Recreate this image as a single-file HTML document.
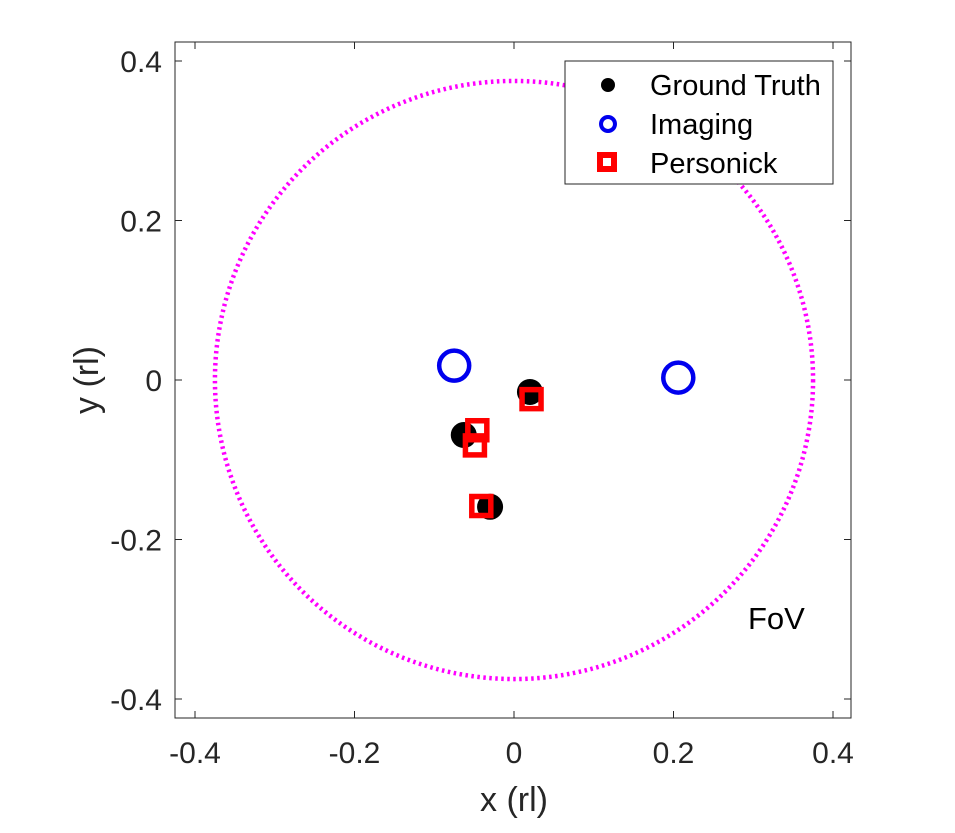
<!DOCTYPE html>
<html><head><meta charset="utf-8"><style>
body{margin:0;background:#fff;}
svg{display:block;font-family:"Liberation Sans",Arial,sans-serif;}
</style></head><body>
<svg id="chart" width="955" height="833" xmlns="http://www.w3.org/2000/svg">
<rect x="175" y="42" width="676" height="676" fill="#fff" stroke="#262626" stroke-width="1"/>
<g id="ticks"></g>
<g id="marks"></g>
<text x="514" y="811" font-size="34" text-anchor="middle" fill="#262626">x (rl)</text>
<text transform="translate(98,380) rotate(-90)" font-size="34" text-anchor="middle" fill="#262626">y (rl)</text>
<text x="748" y="629" font-size="31" fill="#000">FoV</text>
<g>
<rect x="565" y="61" width="268" height="123" fill="#fff" stroke="#262626" stroke-width="1"/>
<circle cx="608" cy="85" r="7" fill="#000"/>
<text x="650" y="95" font-size="29">Ground Truth</text>
<circle cx="608" cy="124" r="7" fill="none" stroke="#0000ee" stroke-width="4"/>
<text x="650" y="134" font-size="29">Imaging</text>
<rect x="600" y="155" width="14" height="14" fill="#fff" stroke="#f00" stroke-width="6"/>
<text x="650" y="173" font-size="29">Personick</text>
</g>
</svg>
<script>
const xTicks=[-0.4,-0.2,0,0.2,0.4];
const yTicks=[-0.4,-0.2,0,0.2,0.4];
const tickLabels=["-0.4","-0.2","0","0.2","0.4"];
const fovRadius=0.375;
const gtX=[0.020,-0.063,-0.030];
const gtY=[-0.015,-0.069,-0.159];
const imX=[-0.075,0.206];
const imY=[0.018,0.003];
const psX=[0.022,-0.046,-0.049,-0.041];
const psY=[-0.024,-0.063,-0.082,-0.158];

const NS="http://www.w3.org/2000/svg";
const sx=v=>514+v*797.5, sy=v=>380-v*797.5;
function mk(tag,attrs,parent){const e=document.createElementNS(NS,tag);for(const k in attrs)e.setAttribute(k,attrs[k]);parent.appendChild(e);return e;}
const T=document.getElementById('ticks'), M=document.getElementById('marks');
xTicks.forEach((v,i)=>{
  const x=sx(v);
  let l=mk('line',{x1:x,x2:x,y1:718,y2:711,stroke:'#262626'},T);
  
  
  l=mk('line',{x1:x,x2:x,y1:42,y2:49,stroke:'#262626'},T);
  
  
  const t=mk('text',{x:x,y:763,'font-size':30,'text-anchor':'middle',fill:'#262626'},T);
  t.textContent=tickLabels[i];
  
  
});
yTicks.forEach((v,i)=>{
  const y=sy(v);
  let l=mk('line',{x1:175,x2:182,y1:y,y2:y,stroke:'#262626'},T);
  
  
  l=mk('line',{x1:851,x2:844,y1:y,y2:y,stroke:'#262626'},T);
  
  
  const t=mk('text',{x:162,y:y+11,'font-size':30,'text-anchor':'end',fill:'#262626'},T);
  t.textContent=tickLabels[i];
  
  
});
const fov=mk('circle',{cx:sx(0),cy:sy(0),r:fovRadius*797.5,fill:'none',stroke:'#ff00ff','stroke-width':4.5,'stroke-dasharray':'2.5 3.5'},M);


gtX.forEach((v,i)=>{
  const c=mk('circle',{cx:sx(v),cy:sy(gtY[i]),r:13,fill:'#000'},M);
  
  
});
imX.forEach((v,i)=>{
  const c=mk('circle',{cx:sx(v),cy:sy(imY[i]),r:15,fill:'none',stroke:'#0000ee','stroke-width':4.5},M);
  
  
});
psX.forEach((v,i)=>{
  const r=mk('rect',{x:sx(v)-9.5,y:sy(psY[i])-9.5,width:19,height:19,fill:'none',stroke:'#f00','stroke-width':5.5},M);
  
  
});
</script>
</body></html>
